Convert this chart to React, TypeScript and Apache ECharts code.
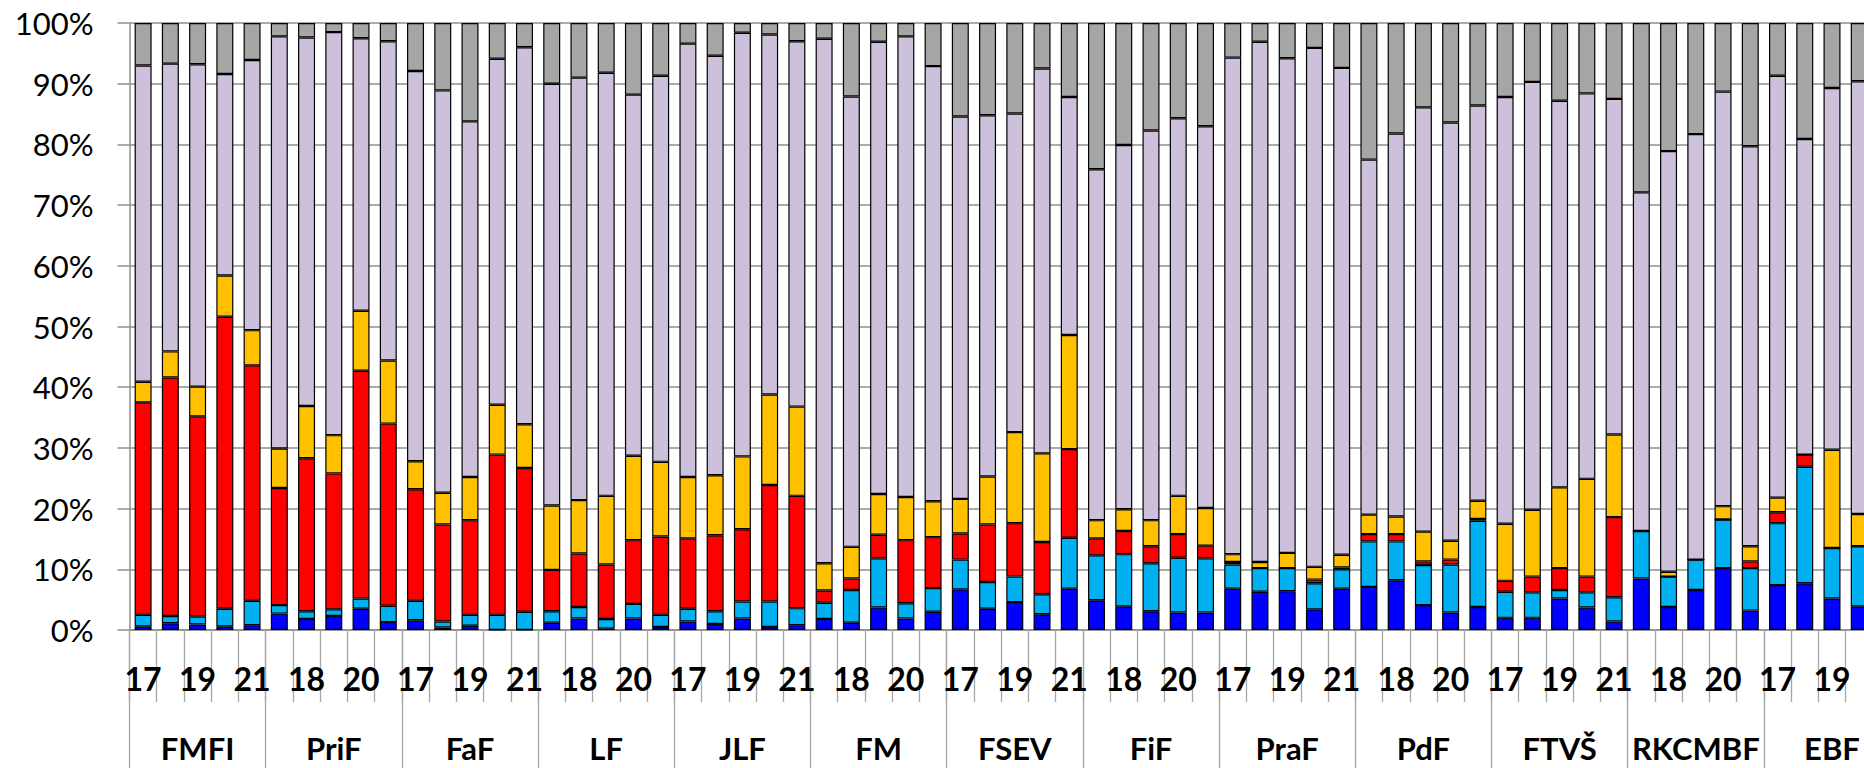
import React, { useEffect, useRef } from "react";
import * as echarts from "echarts";

const groups = ["FMFI", "PriF", "FaF", "LF", "JLF", "FM", "FSEV", "FiF", "PraF", "PdF", "FTVŠ", "RKCMBF", "EBF"];
const years = ["17", "18", "19", "20", "21"];

const blueVals = [0.6, 1.1, 0.9, 0.6, 0.8, 2.7, 1.8, 2.3, 3.5, 1.3, 1.6, 0.4, 0.7, 0, 0, 1.2, 1.9, 0.2, 1.9, 0.5, 1.4, 1.0, 1.9, 0.5, 0.8, 1.8, 1.2, 3.7, 1.9, 3.0, 6.7, 3.5, 4.6, 2.6, 6.8, 4.9, 3.9, 3.1, 2.9, 2.9, 6.8, 6.3, 6.4, 3.4, 6.8, 7.1, 8.2, 4.1, 2.9, 3.8, 2.0, 2.0, 5.2, 3.7, 1.4, 8.5, 3.8, 6.6, 10.2, 3.2, 7.4, 7.7, 5.2, 3.9, null];
const lightBlueVals = [1.9, 1.2, 1.3, 2.9, 4.0, 1.4, 1.3, 1.1, 1.7, 2.7, 3.2, 1.0, 1.8, 2.5, 3.0, 1.9, 1.9, 1.6, 2.4, 2.0, 2.1, 2.1, 2.8, 4.2, 2.8, 2.7, 5.4, 8.1, 2.5, 3.9, 4.9, 4.4, 4.2, 3.3, 8.4, 7.4, 8.6, 7.9, 9.0, 8.9, 4.0, 3.9, 3.8, 4.3, 3.2, 7.5, 6.4, 6.6, 7.9, 14.2, 4.3, 4.2, 1.4, 2.5, 4.0, 7.8, 5.0, 5.0, 8.0, 7.0, 10.2, 19.2, 8.3, 9.9, null];
const redVals = [35.0, 39.3, 33.0, 48.1, 38.8, 19.3, 25.2, 22.4, 37.5, 30.0, 18.4, 16.0, 15.6, 26.4, 23.7, 6.8, 8.8, 9.0, 10.5, 12.9, 11.6, 12.5, 11.9, 19.2, 18.5, 2.0, 1.9, 3.9, 10.4, 8.4, 4.3, 9.5, 8.8, 8.6, 14.6, 2.8, 3.8, 2.8, 3.9, 2.1, 0.4, 0, 0, 0.6, 0.3, 1.2, 1.2, 0.6, 0.8, 0.3, 1.8, 2.6, 3.6, 2.6, 13.2, 0, 0, 0, 0, 1.1, 1.8, 2.0, 0, 0, null];
const yellowVals = [3.4, 4.3, 4.9, 6.8, 5.8, 6.5, 8.6, 6.3, 9.9, 10.4, 4.6, 5.2, 7.1, 8.2, 7.2, 10.6, 8.8, 11.3, 13.9, 12.3, 10.1, 9.9, 12.0, 14.9, 14.7, 4.5, 5.2, 6.7, 7.1, 5.9, 5.7, 7.9, 15.0, 14.6, 18.8, 3.0, 3.6, 4.3, 6.3, 6.2, 1.3, 1.0, 2.5, 2.1, 2.1, 3.2, 2.9, 4.9, 3.1, 3.0, 9.4, 11.0, 13.3, 16.1, 13.6, 0, 0.8, 0, 2.2, 2.5, 2.4, 0, 16.2, 5.3, null];
const lavenderVals = [52.1, 47.4, 53.1, 33.2, 44.5, 67.9, 60.7, 66.4, 44.9, 52.6, 64.3, 66.3, 58.6, 57.0, 62.1, 69.5, 69.6, 69.7, 59.5, 63.6, 71.4, 69.1, 69.8, 59.3, 60.2, 86.4, 74.2, 74.5, 75.9, 71.7, 63.0, 59.5, 52.5, 63.4, 39.2, 57.8, 60.0, 64.2, 62.2, 62.9, 81.8, 85.7, 81.5, 85.5, 80.2, 58.5, 63.1, 69.9, 68.9, 65.1, 70.3, 70.5, 63.7, 63.5, 55.3, 55.8, 69.3, 70.1, 68.3, 65.9, 69.5, 52.0, 59.6, 71.3, null];
const grayVals = [7.0, 6.7, 6.8, 8.4, 6.1, 2.2, 2.4, 1.5, 2.5, 3.0, 7.9, 11.1, 16.2, 5.9, 4.0, 10.0, 9.0, 8.2, 11.8, 8.7, 3.4, 5.4, 1.6, 1.9, 3.0, 2.6, 12.1, 3.1, 2.2, 7.1, 15.4, 15.2, 14.9, 7.5, 12.2, 24.1, 20.1, 17.7, 15.7, 17.0, 5.7, 3.1, 5.8, 4.1, 7.4, 22.5, 18.2, 13.9, 16.4, 13.6, 12.2, 9.7, 12.8, 11.6, 12.5, 27.9, 21.1, 18.3, 11.3, 20.3, 8.7, 19.1, 10.7, 9.6, null];

const seriesDefs = [
  { name: "s1", data: blueVals, color: "#0000FF" },
  { name: "s2", data: lightBlueVals, color: "#00B0F0" },
  { name: "s3", data: redVals, color: "#FF0000" },
  { name: "s4", data: yellowVals, color: "#FFC000" },
  { name: "s5", data: lavenderVals, color: "#CCC0DA" },
  { name: "s6", data: grayVals, color: "#A6A6A6" },
];

const categories: string[] = [];
groups.forEach(() => years.forEach((y) => categories.push(y)));

export default function App() {
  const ref = useRef<HTMLDivElement>(null);
  useEffect(() => {
    if (!ref.current) return;
    const chart = echarts.init(ref.current, null, { renderer: "svg" });
    const gridColor = "#8f8f8f";
    const tickColor = "#a6a6a6";
    const lastIdx = categories.length - 1;
    chart.setOption({
      animation: false,
      textStyle: { fontFamily: "Lato" },
      grid: { left: 129.5, top: 23, width: 1770.6, height: 607, containLabel: false },
      xAxis: [
        {
          type: "category",
          data: categories,
          position: "bottom",
          axisLine: { show: true, lineStyle: { color: gridColor, width: 1.5 } },
          axisTick: { show: true, interval: 0, length: 72, lineStyle: { color: tickColor, width: 1.3 } },
          axisLabel: {
            interval: 1,
            margin: 32,
            fontSize: 32,
            fontWeight: "bold",
            color: "#000",
            fontFamily: "Lato",
            formatter: (v: string, i: number) => (i === lastIdx ? "" : v),
          },
          splitLine: { show: false },
        },
        {
          type: "category",
          data: groups,
          position: "bottom",
          axisLine: { show: false },
          axisTick: { show: true, interval: 0, length: 145, lineStyle: { color: tickColor, width: 1.3 } },
          axisLabel: { interval: 0, margin: 102, fontSize: 31, fontWeight: "bold", color: "#000", fontFamily: "Lato" },
          splitLine: { show: false },
        },
      ],
      yAxis: {
        type: "value",
        min: 0,
        max: 100,
        interval: 10,
        axisLine: { show: true, lineStyle: { color: gridColor, width: 1.5 } },
        axisTick: { show: true, length: 12, lineStyle: { color: gridColor, width: 1.5 } },
        splitLine: { show: true, lineStyle: { color: gridColor, width: 1.5 } },
        axisLabel: { formatter: "{value}%", fontSize: 31, margin: 36, color: "#000", fontFamily: "Lato" },
      },
      series: seriesDefs.map((s) => ({
        name: s.name,
        type: "bar",
        stack: "total",
        xAxisIndex: 0,
        barWidth: 17,
        data: s.data,
        itemStyle: { color: s.color, borderColor: "#000", borderWidth: 1.2 },
      })),
    });
    return () => chart.dispose();
  }, []);
  return (
    <div style={{ position: "fixed", left: 0, top: 0, width: "1864px", height: "768px", overflow: "hidden", background: "#fff" }}>
      <div ref={ref} style={{ width: "1920px", height: "768px" }} />
    </div>
  );
}
